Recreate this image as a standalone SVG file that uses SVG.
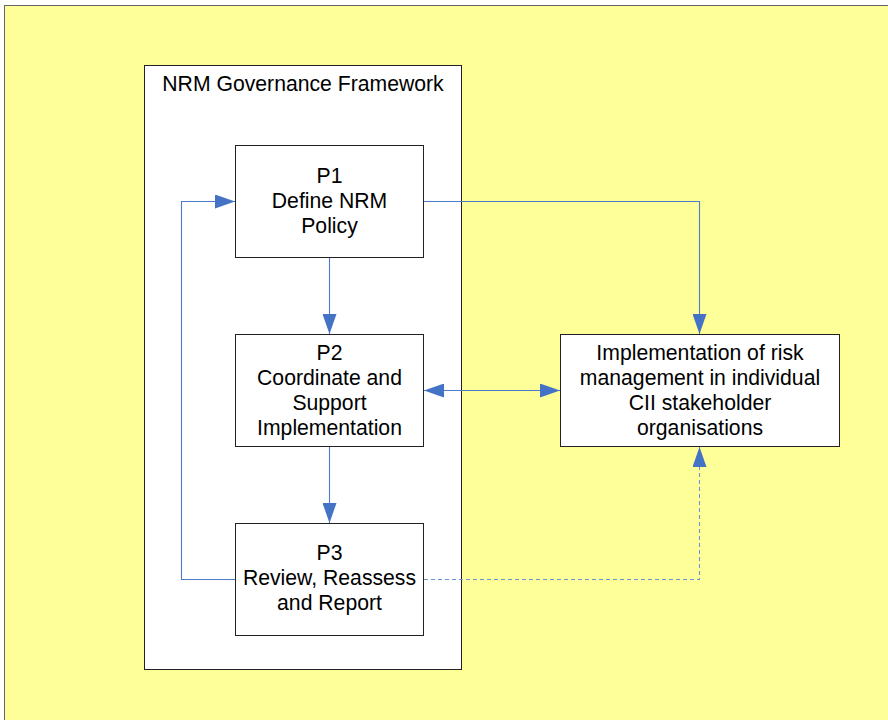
<svg xmlns="http://www.w3.org/2000/svg" width="888" height="720" viewBox="0 0 888 720">
  <style>
    .box { fill: #ffffff; stroke: #222222; stroke-width: 1; }
    .lbl { font-family: "Liberation Sans", Arial, sans-serif; font-size: 21.2px; fill: #000000; text-anchor: middle; }
    .conn { fill: none; stroke: #4a7cc9; stroke-width: 1.1; }
    .dash { stroke-dasharray: 4 3; stroke: #6d94d3; }
  </style>
  <defs>
    <marker id="arrow" markerUnits="userSpaceOnUse" markerWidth="20" markerHeight="14" viewBox="0 0 20 14" refX="20" refY="7" orient="auto-start-reverse">
      <path d="M0,0 L20,7 L0,14 Z" fill="#4472c4"/>
    </marker>
  </defs>

  <!-- page background -->
  <rect x="0" y="0" width="888" height="720" fill="#ffffff"/>
  <rect x="4.5" y="5.5" width="900" height="730" fill="#ffff99" stroke="#666666" stroke-width="1"/>

  <!-- framework container -->
  <g id="framework">
    <rect class="box" x="144.5" y="65.5" width="317" height="604"/>
    <text class="lbl" x="303" y="91">NRM Governance Framework</text>
  </g>

  <g id="p1">
    <rect class="box" x="235.5" y="145.5" width="188" height="112"/>
    <text class="lbl" x="329.5" y="183">P1</text>
    <text class="lbl" x="329.5" y="208">Define NRM</text>
    <text class="lbl" x="329.5" y="233">Policy</text>
  </g>

  <g id="p2">
    <rect class="box" x="235.5" y="334.5" width="188" height="112"/>
    <text class="lbl" x="329.5" y="359.5">P2</text>
    <text class="lbl" x="329.5" y="384.5">Coordinate and</text>
    <text class="lbl" x="329.5" y="409.5">Support</text>
    <text class="lbl" x="329.5" y="434.5">Implementation</text>
  </g>

  <g id="p3">
    <rect class="box" x="235.5" y="523.5" width="188" height="112"/>
    <text class="lbl" x="329.5" y="560">P3</text>
    <text class="lbl" x="329.5" y="585">Review, Reassess</text>
    <text class="lbl" x="329.5" y="610">and Report</text>
  </g>

  <g id="stakeholders">
    <rect class="box" x="560.5" y="334.5" width="279" height="112"/>
    <text class="lbl" x="700" y="359.5">Implementation of risk</text>
    <text class="lbl" x="700" y="384.5">management in individual</text>
    <text class="lbl" x="700" y="409.5">CII stakeholder</text>
    <text class="lbl" x="700" y="434.5">organisations</text>
  </g>

  <g id="connectors">
    <!-- P1 to P2 -->
    <path class="conn" d="M329.5,258 V334" marker-end="url(#arrow)"/>
    <!-- P2 to P3 -->
    <path class="conn" d="M329.5,447 V523" marker-end="url(#arrow)"/>
    <!-- P1 to stakeholder organisations -->
    <path class="conn" d="M424,201.5 H699.5 V334" marker-end="url(#arrow)"/>
    <!-- P2 with stakeholder organisations, both ways -->
    <path class="conn" d="M424,390.5 H560" marker-start="url(#arrow)" marker-end="url(#arrow)"/>
    <!-- P3 feedback loop to P1 -->
    <path class="conn" d="M235,579.5 H181.5 V201.5 H235" marker-end="url(#arrow)"/>
    <!-- P3 review towards stakeholder organisations -->
    <path class="conn dash" d="M424,579.5 H699.5 V447" marker-end="url(#arrow)"/>
  </g>
</svg>
